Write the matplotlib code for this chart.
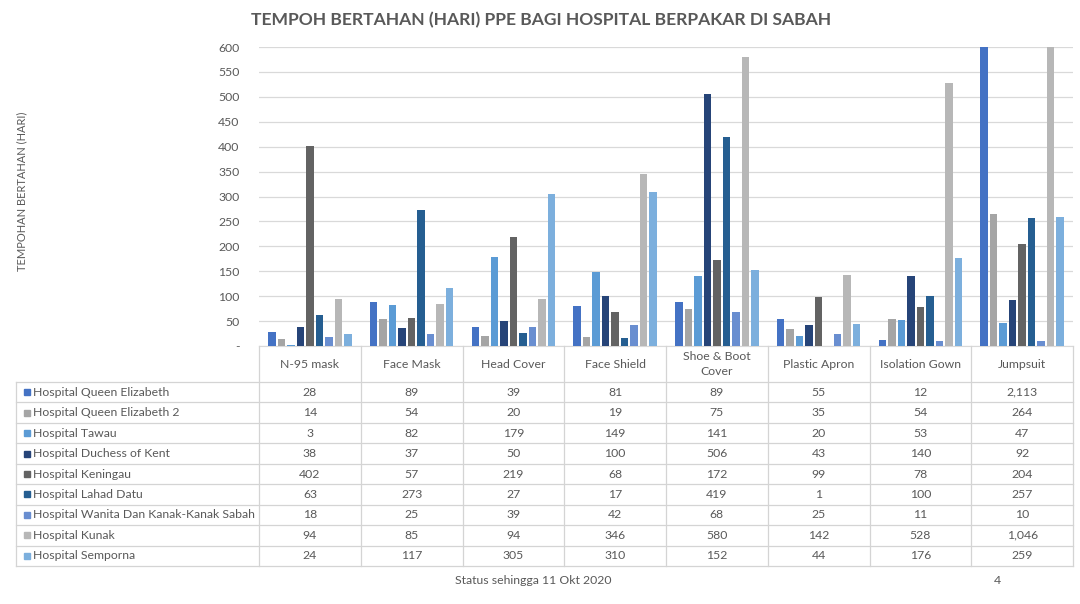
import matplotlib
matplotlib.use("Agg")
import matplotlib.pyplot as plt
from matplotlib.ticker import FuncFormatter
import numpy as np

plt.rcParams['font.family'] = ['Lato', 'DejaVu Sans']

categories = ["N-95 mask", "Face Mask", "Head Cover", "Face Shield",
              "Shoe & Boot\nCover", "Plastic Apron", "Isolation Gown", "Jumpsuit"]
hospitals = ["Hospital Queen Elizabeth", "Hospital Queen Elizabeth 2", "Hospital Tawau",
             "Hospital Duchess of Kent", "Hospital Keningau", "Hospital Lahad Datu",
             "Hospital Wanita Dan Kanak-Kanak Sabah", "Hospital Kunak", "Hospital Semporna"]
qe = [28, 89, 39, 81, 89, 55, 12, 2113]
qe2 = [14, 54, 20, 19, 75, 35, 54, 264]
tawau = [3, 82, 179, 149, 141, 20, 53, 47]
duchess = [38, 37, 50, 100, 506, 43, 140, 92]
keningau = [402, 57, 219, 68, 172, 99, 78, 204]
lahad = [63, 273, 27, 17, 419, 1, 100, 257]
wanita = [18, 25, 39, 42, 68, 25, 11, 10]
kunak = [94, 85, 94, 346, 580, 142, 528, 1046]
semporna = [24, 117, 305, 310, 152, 44, 176, 259]
series = [qe, qe2, tawau, duchess, keningau, lahad, wanita, kunak, semporna]
colors = ["#4472C4", "#A5A5A5", "#5B9BD5", "#264478", "#636363",
          "#255E91", "#698ED0", "#B7B7B7", "#7CAFDD"]

TXT = "#595959"
GRID = "#D9D9D9"
W, H = 1080, 604

fig = plt.figure(figsize=(W / 100, H / 100), dpi=100)

# chart area in pixel layout
x0, x1, ytop, ybot = 259, 1073, 47, 346
ax = fig.add_axes([x0 / W, 1 - ybot / H, (x1 - x0) / W, (ybot - ytop) / H])
n = len(series)
pitch = 0.0934
bw = 0.072
xs = np.arange(len(categories))
for i, (vals, c) in enumerate(zip(series, colors)):
    ax.bar(xs + (i - (n - 1) / 2) * pitch + 0.5, vals, width=bw, color=c, zorder=3)
ax.set_xlim(0, len(categories))
ax.set_ylim(0, 600)
ax.set_yticks(np.arange(0, 601, 50))
ax.yaxis.set_major_formatter(FuncFormatter(lambda v, p: "-" if v == 0 else f"{int(v)}"))
ax.tick_params(axis='y', length=0, labelsize=8.8, labelcolor=TXT, pad=14)
ax.set_xticks([])
ax.grid(axis='y', color=GRID, linewidth=0.9, zorder=0)
for s in ['top', 'right', 'left']:
    ax.spines[s].set_visible(False)
ax.spines['bottom'].set_color(GRID)

# overlay for table & text (pixel coordinates)
ov = fig.add_axes([0, 0, 1, 1], facecolor='none')
ov.set_xlim(0, W)
ov.set_ylim(H, 0)
ov.axis('off')

colw = (x1 - x0) / len(categories)
tleft = 16
hdr_bot = 382
tbot = 566
rowh = (tbot - hdr_bot) / len(hospitals)
lc = "#D4D4D4"
for j in range(len(categories) + 1):
    ov.plot([x0 + j * colw] * 2, [ybot, tbot], color=lc, lw=0.9)
ov.plot([tleft, tleft], [hdr_bot, tbot], color=lc, lw=0.9)
for k in range(len(hospitals) + 1):
    y = hdr_bot + k * rowh
    ov.plot([tleft, x1], [y, y], color=lc, lw=0.9)

for j, cat in enumerate(categories):
    ov.text(x0 + (j + 0.5) * colw, (ybot + hdr_bot) / 2, cat, ha='center', va='center',
            fontsize=8.8, color=TXT, linespacing=1.55)

for k, (name, vals, c) in enumerate(zip(hospitals, series, colors)):
    yc = hdr_bot + (k + 0.5) * rowh
    ov.add_patch(plt.Rectangle((24, yc - 3), 6, 6, color=c))
    ov.text(33, yc, name, ha='left', va='center', fontsize=8.8, color=TXT)
    for j, v in enumerate(vals):
        ov.text(x0 + (j + 0.5) * colw, yc, f"{v:,}", ha='center', va='center',
                fontsize=8.8, color=TXT)

ov.text(541, 20, "TEMPOH BERTAHAN (HARI) PPE BAGI HOSPITAL BERPAKAR DI SABAH",
        ha='center', va='center', fontsize=12.6, fontweight='bold', color=TXT)
ov.text(22, 191, "TEMPOHAN BERTAHAN (HARI)", ha='center', va='center', rotation=90,
        fontsize=8, color=TXT)
ov.text(533, 581, "Status sehingga 11 Okt 2020", ha='center', va='center',
        fontsize=8.8, color=TXT)
ov.text(997, 581, "4", ha='center', va='center', fontsize=8.8, color=TXT)

fig.savefig("out.png", dpi=100)
